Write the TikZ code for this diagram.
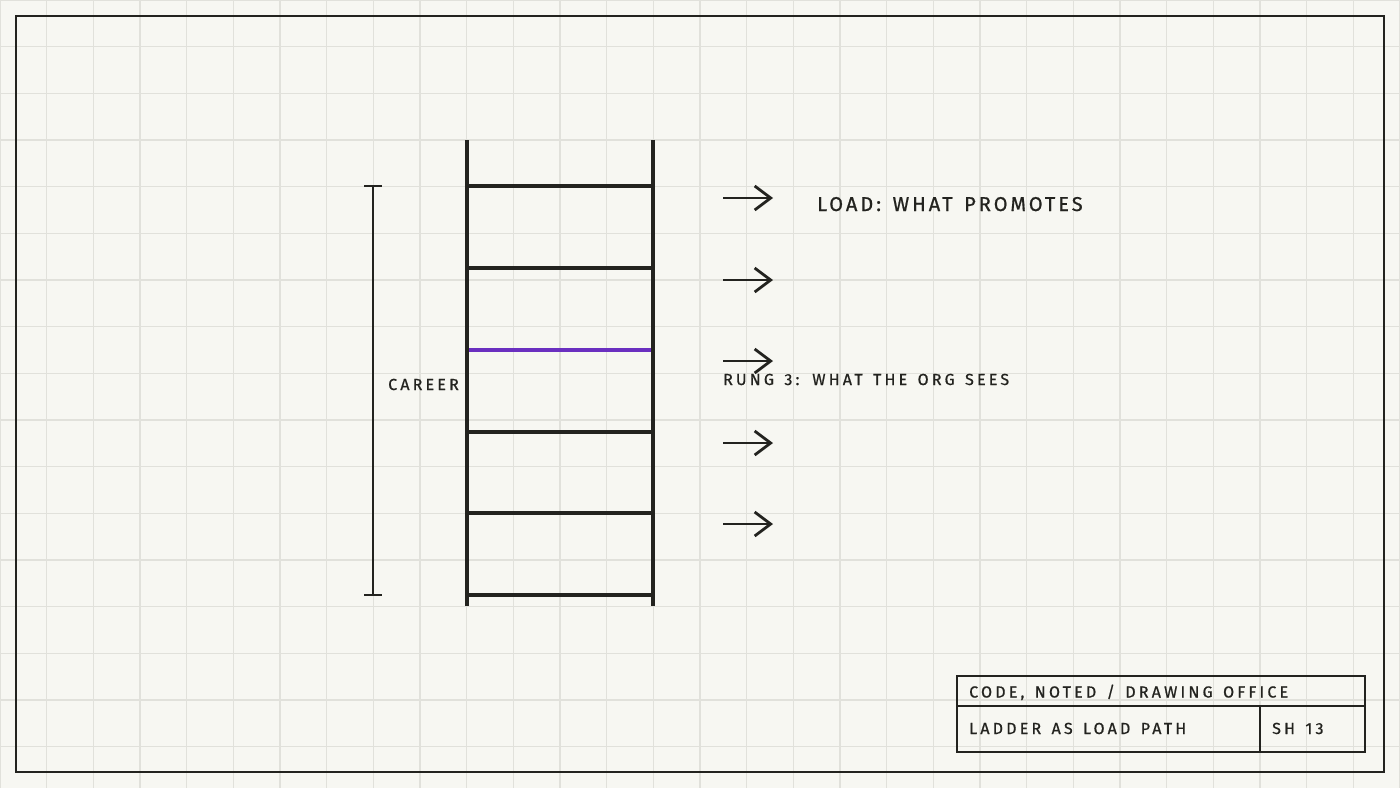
\documentclass[tikz,border=0pt]{standalone}
\usepackage{fontspec}
\newfontfamily\dinfont[LetterSpace=20,WordSpace=1.4,FakeBold=0.8]{Fira Sans}
\newfontfamily\dinload[LetterSpace=15,WordSpace=1.4,FakeBold=0.8]{Fira Sans}
\usetikzlibrary{arrows.meta}
\definecolor{paper}{HTML}{F7F7F2}
\definecolor{gridc}{HTML}{E1E1DB}
\definecolor{ink}{HTML}{23231F}
\definecolor{hotc}{HTML}{6A2FC0}

\begin{document}
\begin{tikzpicture}[x=1pt,y=-1pt,
            gridline/.style={draw=gridc,line width=1.2pt},
            frame/.style={draw=ink,line width=2.7pt},
            rail/.style={draw=ink,line width=4pt},
            rung/.style={draw=ink,line width=3.2pt},
            hotrung/.style={draw=hotc,line width=4.5pt},
            dim/.style={draw=ink,line width=1.4pt},
            load/.style={draw=ink,line width=2.8pt,-{Straight Barb[length=16pt,width=24pt]}},
            lab/.style={inner sep=0,anchor=base west,text=ink,font=\dinfont\fontsize{16}{16}\selectfont},
            biglab/.style={lab,font=\dinload\fontsize{20}{20}\selectfont}
          ]
          \useasboundingbox[fill=paper] (0,0) rectangle (1400,788);

          %grid
          \foreach \i in {0,...,30} \draw[gridline] (\i*46.667,0) -- (\i*46.667,788);
          \foreach \j in {0,...,16} \draw[gridline] (0,\j*46.667) -- (1400,\j*46.667);

          %sheet border
          \draw[frame] (16,16) rectangle (1384,772);

          %ladder
          \draw[rail] (467,140) -- (467,606);
          \draw[rail] (653,140) -- (653,606);
          \foreach \y in {186,268,432,513,595} \draw[rung] (467,\y) -- (653,\y);
          \draw[hotrung] (469,350) -- (651,350);

          %career dimension
          \draw[dim] (373,186) -- (373,595);
          \draw[dim] (364,186) -- (382,186);
          \draw[dim] (364,595) -- (382,595);
          \node[lab] (career) at (388,390) {CAREER};

          %loads
          \foreach \y [count=\i] in {198,280,361,443,524} {
            \coordinate (l\i) at (723,\y);
            \coordinate (r\i) at (773,\y);
            \draw[load] (l\i) -- (r\i);
          }
          \node[biglab] (load) at (817,211) {LOAD: WHAT PROMOTES};
          \node[lab] (rung3) at (723,385) {RUNG 3: WHAT THE ORG SEES};

          %title block
          \draw[frame] (957,676) rectangle (1365,752);
          \draw[draw=ink,line width=2.4pt] (957,706) -- (1365,706);
          \draw[draw=ink,line width=2.4pt] (1260,706) -- (1260,752);
          \node[lab] (office) at (969,697.5) {CODE, NOTED / DRAWING OFFICE};
          \node[lab] (title) at (969,734) {LADDER AS LOAD PATH};
          \node[lab] (sheet) at (1272,734) {SH 13};

      \end{tikzpicture}
\end{document}
